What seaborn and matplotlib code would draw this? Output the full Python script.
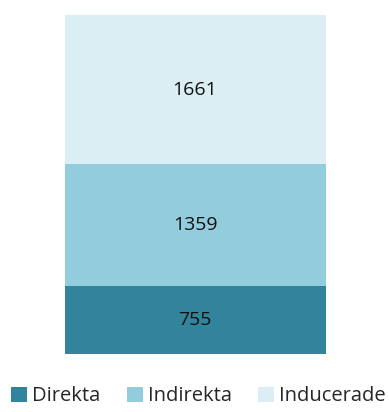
import matplotlib
matplotlib.use("Agg")
import matplotlib.pyplot as plt
import seaborn as sns
import pandas as pd
from matplotlib.patches import Patch

sns.set_theme(style="white")
plt.rcParams['font.family'] = ['Open Sans', 'DejaVu Sans']

categories = ["Direkta", "Indirekta", "Inducerade"]
values = [755, 1359, 1661]
colors = ["#31849B", "#93CDDD", "#DAEEF3"]

fig = plt.figure(figsize=(3.89, 4.12), dpi=100)
ax = fig.add_axes([64.5/389, 1 - 354/412, (325.5 - 64.5)/389, (354 - 15)/412])

bottom = 0
for cat, v, c in zip(categories, values, colors):
    sns.barplot(x=[0], y=[v + bottom], color=c, ax=ax, width=1.0, saturation=1,
                zorder=-bottom, edgecolor="none", linewidth=0)
    ax.text(0, bottom + v / 2, str(v), ha="center", va="center", fontsize=14, color="#111111")
    bottom += v

ax.set_xlim(-0.5, 0.5)
ax.set_ylim(0, sum(values))
ax.axis("off")

handles = [Patch(facecolor=c, edgecolor="none") for c in colors]
fig.legend(handles, categories, loc="lower center", bbox_to_anchor=(0.51, -0.03), ncol=3,
           frameon=False, fontsize=14.5, handlelength=0.8, handleheight=0.8,
           handletextpad=0.25, columnspacing=1.3)

fig.savefig("out.png", dpi=100)
